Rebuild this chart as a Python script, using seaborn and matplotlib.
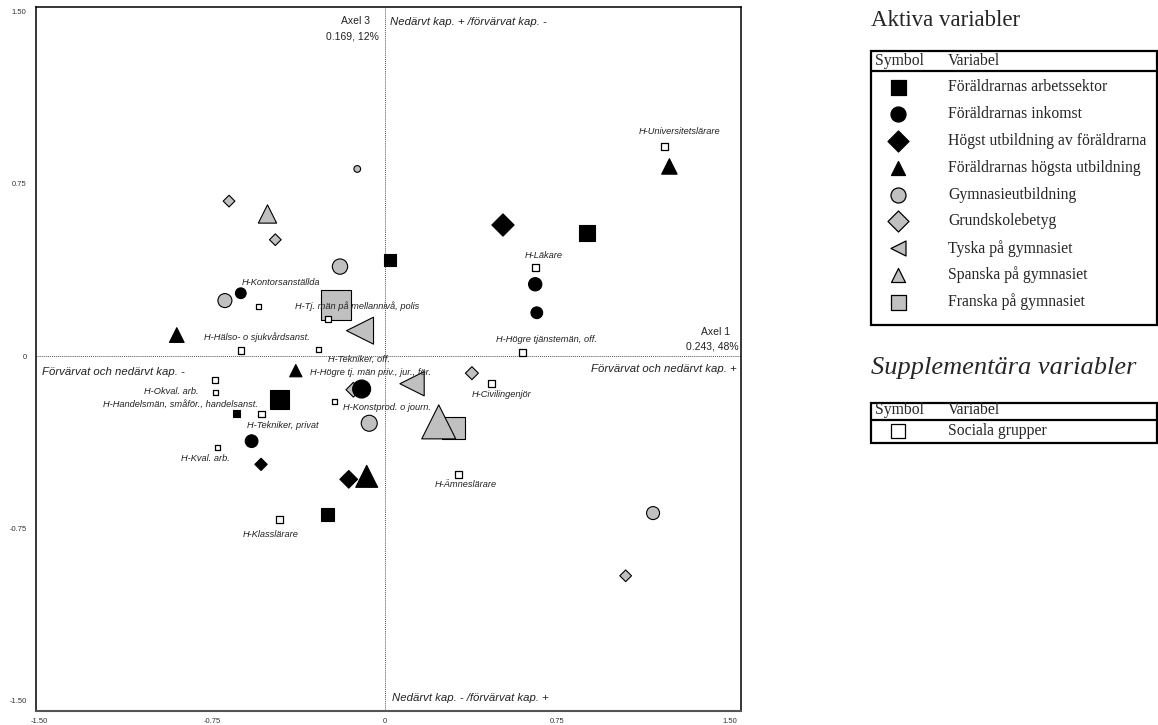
import numpy as np
import pandas as pd
import matplotlib
matplotlib.use("Agg")
import matplotlib.pyplot as plt
import seaborn as sns
from matplotlib.patches import Rectangle

# ---------------- data ----------------
# Active variables: coordinates on Axel 1 (x) and Axel 3 (y), and marker extent (weight)
sektor_x = [0.878, 0.023, -0.458, -0.247, -0.644]
sektor_y = [0.538, 0.418, -0.188, -0.688, -0.249]
sektor_w = [16, 12, 19, 12.7, 7]

inkomst_x = [0.654, 0.661, -0.625, -0.100, -0.578]
inkomst_y = [0.313, 0.189, 0.274, -0.143, -0.370]
inkomst_w = [13.3, 11.7, 10.7, 18, 12.7]

hogst_x = [0.514, -0.537, -0.156]
hogst_y = [0.571, -0.471, -0.536]
hogst_w = [22.3, 12.3, 17.7]

hogsta_x = [1.237, -0.903, -0.386, -0.078]
hogsta_y = [0.826, 0.092, -0.063, -0.523]
hogsta_w = [15.5, 14.7, 12.3, 22]

gymn_x = [-0.119, -0.194, -0.694, -0.067, 1.166]
gymn_y = [0.815, 0.390, 0.242, -0.292, -0.683]
gymn_w = [6.7, 15.3, 14, 16, 13]

grund_x = [-0.676, -0.475, 0.379, 1.047, -0.136]
grund_y = [0.675, 0.507, -0.074, -0.956, -0.146]
grund_w = [11.7, 11.7, 13, 11.7, 14.7]

tyska_x = [-0.107, 0.119]
tyska_y = [0.111, -0.120]
tyska_w = [27, 24.3]

spanska_x = [-0.509, 0.235]
spanska_y = [0.619, -0.286]
spanska_w = [18.3, 34]

franska_x = [-0.213, 0.299]
franska_y = [0.223, -0.312]
franska_w = [30, 22.3]

# Supplementary variable: social groups
grupp_namn = [
    "H-Universitetslärare", "H-Läkare", "H-Högre tjänstemän, off.",
    "H-Kontorsanställda", "H-Tj. män på mellannivå, polis",
    "H-Hälso- o sjukvårdsanst.", "H-Tekniker, off.",
    "H-Högre tj. män priv., jur., för.", "H-Okval. arb.",
    "H-Handelsmän, småför., handelsanst.", "H-Tekniker, privat",
    "H-Konstprod. o journ.", "H-Civilingenjör", "H-Kval. arb.",
    "H-Ämneslärare", "H-Klasslärare",
]
grupp_x = [1.215, 0.654, 0.600, -0.549, -0.246, -0.624, -0.288, -0.111,
           -0.737, -0.735, -0.535, -0.219, 0.462, -0.724, 0.322, -0.458]
grupp_y = [0.912, 0.385, 0.015, 0.215, 0.161, 0.024, 0.027, -0.130,
           -0.104, -0.156, -0.252, -0.198, -0.120, -0.397, -0.513, -0.709]
grupp_w = [7.3, 6.7, 6.7, 5, 6.5, 6.7, 5, 6, 6.5, 5, 6.7, 5, 7, 5, 7, 7]

tick_vals = [-1.5, -0.75, 0, 0.75, 1.5]
tick_text = ["-1.50", "-0.75", "0", "0.75", "1.50"]

aktiva_namn = [
    "Föräldrarnas arbetssektor", "Föräldrarnas inkomst",
    "Högst utbildning av föräldrarna", "Föräldrarnas högsta utbildning",
    "Gymnasieutbildning", "Grundskolebetyg", "Tyska på gymnasiet",
    "Spanska på gymnasiet", "Franska på gymnasiet",
]

# ---------------- styling ----------------
sns.set_theme(style="white")
plt.rcParams["font.family"] = ["Liberation Sans", "DejaVu Sans"]

DPI = 100
W, H = 1158, 725
GREY = "#c0c0c0"

styles = {
    "Föräldrarnas arbetssektor": ("s", "black", 5),
    "Föräldrarnas inkomst": ("o", "black", 5),
    "Högst utbildning av föräldrarna": ("D", "black", 5),
    "Föräldrarnas högsta utbildning": ("^", "black", 5),
    "Gymnasieutbildning": ("o", GREY, 3),
    "Grundskolebetyg": ("D", GREY, 3),
    "Tyska på gymnasiet": ("<", GREY, 2),
    "Spanska på gymnasiet": ("^", GREY, 2),
    "Franska på gymnasiet": ("s", GREY, 1),
}

series = [
    (sektor_x, sektor_y, sektor_w), (inkomst_x, inkomst_y, inkomst_w),
    (hogst_x, hogst_y, hogst_w), (hogsta_x, hogsta_y, hogsta_w),
    (gymn_x, gymn_y, gymn_w), (grund_x, grund_y, grund_w),
    (tyska_x, tyska_y, tyska_w), (spanska_x, spanska_y, spanska_w),
    (franska_x, franska_y, franska_w),
]
frames = []
for name, (xs, ys, ws) in zip(aktiva_namn, series):
    frames.append(pd.DataFrame({"x": xs, "y": ys, "w": ws, "variabel": name}))
aktiva = pd.concat(frames, ignore_index=True)

grupper = pd.DataFrame({"x": grupp_x, "y": grupp_y, "w": grupp_w, "namn": grupp_namn})


def area(px, marker):
    pt = np.asarray(px, dtype=float) * 72.0 / DPI
    if marker == "D":
        pt = pt / np.sqrt(2)
    return pt ** 2


fig = plt.figure(figsize=(W / DPI, H / DPI), dpi=DPI)
fig.patch.set_facecolor("white")
ax = fig.add_axes([36 / W, 1 - 711 / H, 705 / W, 704 / H])
ax.set_xlim(-1.5146, 1.548)
ax.set_ylim(-1.5446, 1.520)

ax.axhline(0, color="#555555", lw=0.7, ls=(0, (1, 1)), zorder=0)
ax.axvline(0, color="#555555", lw=0.7, ls=(0, (1, 1)), zorder=0)

for name in aktiva_namn:
    marker, face, z = styles[name]
    sub = aktiva[aktiva["variabel"] == name]
    sns.scatterplot(data=sub, x="x", y="y", marker=marker, s=area(sub["w"], marker),
                    color=face, edgecolor="black", linewidth=0.8, ax=ax,
                    legend=False, zorder=z)

sns.scatterplot(data=grupper, x="x", y="y", marker="s", s=area(grupper["w"], "s"),
                color="white", edgecolor="black", linewidth=0.9, ax=ax,
                legend=False, zorder=4)

# label offsets in pixels relative to the square (layout only)
lab_off = [(14.7, 15), (9, 12.7), (24, 13.4), (22.2, 24), (29.5, 12.6),
           (15.7, 14), (40.4, -9.3), (11, 13.3), (-44, -11), (-35, -12.3),
           (21, -11), (53.2, -5.6), (10.2, -10.3), (-12.5, -11), (6.8, -10),
           (-8.3, -15)]
for (_, r), off in zip(grupper.iterrows(), lab_off):
    ax.annotate(r["namn"], (r["x"], r["y"]), xytext=off, textcoords="offset pixels",
                ha="center", va="center", fontsize=6.7, style="italic",
                color="#222222", zorder=6)

txt = dict(fontsize=7.5, color="#222222")
itx = dict(fontsize=8.2, color="#222222", style="italic")
ax.text(-0.064, 1.459, "Axel 3", ha="right", va="center", **txt)
ax.text(-0.0245, 1.390, "0.169, 12%", ha="right", va="center", **txt)
ax.text(0.023, 1.455, "Nedärvt kap. + /förvärvat kap. -", ha="left", va="center", **itx)
ax.text(1.500, 0.106, "Axel 1", ha="right", va="center", **txt)
ax.text(1.539, 0.040, "0.243, 48%", ha="right", va="center", **txt)
ax.text(1.531, -0.056, "Förvärvat och nedärvt kap. +", ha="right", va="center", **itx)
ax.text(-1.488, -0.069, "Förvärvat och nedärvt kap. -", ha="left", va="center", **itx)
ax.text(0.032, -1.488, "Nedärvt kap. - /förvärvat kap. +", ha="left", va="center", **itx)

ax.set_xticks(tick_vals)
ax.set_xticklabels(tick_text)
ax.set_yticks(tick_vals)
ax.set_yticklabels(tick_text)
ax.tick_params(axis="both", direction="inout", length=4.5, width=0.8,
               labelsize=5.5, colors="#333333")
ax.tick_params(axis="x", pad=2.5)
ax.tick_params(axis="y", pad=4.5)
ax.set_xlabel("")
ax.set_ylabel("")
for side in ["left", "top", "right"]:
    ax.spines[side].set_visible(True)
    ax.spines[side].set_color("black")
    ax.spines[side].set_linewidth(1.1)
ax.spines["bottom"].set_visible(True)
ax.spines["bottom"].set_color("#555555")
ax.spines["bottom"].set_linewidth(1.5)

# ---------------- legend panel (pixel layout) ----------------
lax = fig.add_axes([0, 0, 1, 1], zorder=10)
lax.set_xlim(0, W)
lax.set_ylim(H, 0)
lax.axis("off")
lax.patch.set_alpha(0)

serif = ["Liberation Serif", "DejaVu Serif"]
LFS = 11.3
lax.text(871, 20, "Aktiva variabler", fontsize=16.5, family=serif, ha="left", va="center")
lax.add_patch(Rectangle((871, 51), 286, 274, fill=False, lw=1.6, ec="black"))
lax.plot([871, 1157], [71, 71], color="black", lw=1.6)
lax.text(875, 61, "Symbol", fontsize=LFS, family=serif, ha="left", va="center")
lax.text(948, 61, "Variabel", fontsize=LFS, family=serif, ha="left", va="center")

leg_px = {"s": 15, "o": 15, "D": 21, "^": 14}
for i, name in enumerate(aktiva_namn):
    marker, face, _ = styles[name]
    yy = 87.3 + i * 26.8
    lax.scatter([897.7], [yy], marker=marker, s=area(leg_px.get(marker, 15), marker),
                c=face, edgecolors="black", linewidths=0.9)
    lax.text(948, yy, name, fontsize=LFS, family=serif, ha="left", va="center")

lax.text(871, 368, "Supplementära variabler", fontsize=19, family=serif,
         style="italic", ha="left", va="center")
lax.add_patch(Rectangle((871, 403), 286, 40, fill=False, lw=1.6, ec="black"))
lax.plot([871, 1157], [420, 420], color="black", lw=1.6)
lax.text(875, 410, "Symbol", fontsize=LFS, family=serif, ha="left", va="center")
lax.text(948, 410, "Variabel", fontsize=LFS, family=serif, ha="left", va="center")
lax.scatter([898.3], [431], marker="s", s=area(14.7, "s"), c="white",
            edgecolors="black", linewidths=0.9)
lax.text(948, 431, "Sociala grupper", fontsize=LFS, family=serif, ha="left", va="center")

fig.savefig("out.png", dpi=DPI)
